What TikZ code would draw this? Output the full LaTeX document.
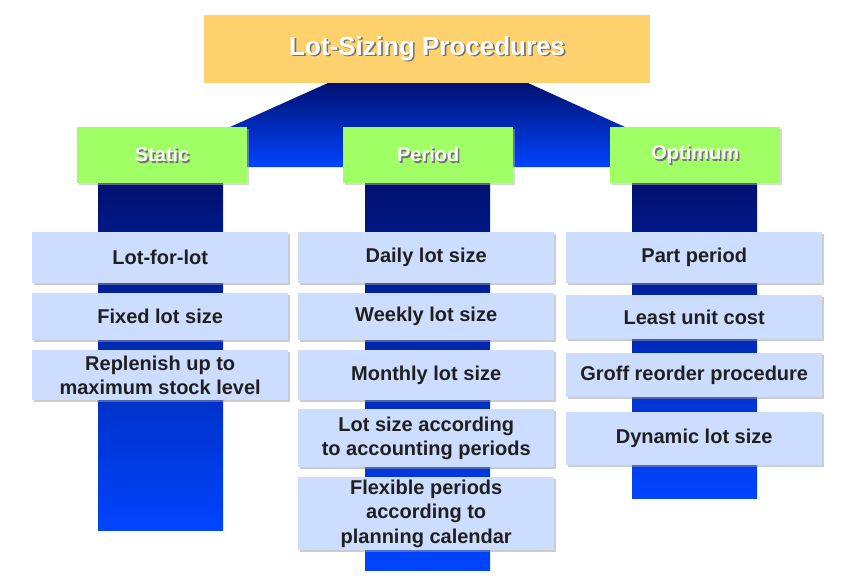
\documentclass[tikz,border=0pt]{standalone}
\usepackage{fontspec}
\setmainfont{Liberation Sans}
\usetikzlibrary{shadows}
\definecolor{navy}{HTML}{001070}
\definecolor{brightblue}{HTML}{0044FF}
\definecolor{topfill}{HTML}{FDD26E}
\definecolor{greenfill}{HTML}{A0FF64}
\definecolor{itemfill}{HTML}{CCDDFF}
\newcommand\shadowed[1]{\rlap{\kern1.6pt\raisebox{-1.6pt}{\color{black!55}#1}}#1}
\tikzset{
  titlebox/.style={rectangle, fill=topfill, anchor=north west, inner sep=0pt,
    text=white, font=\bfseries\fontsize{26}{30}\selectfont},
  catbox/.style={rectangle, fill=greenfill, anchor=north west, inner sep=0pt,
    minimum width=170pt, minimum height=56pt, text=white,
    drop shadow={shadow xshift=1.5pt, shadow yshift=-1.5pt, fill=black!30},
    font=\bfseries\fontsize{20}{24}\selectfont},
  item/.style={rectangle, fill=itemfill, anchor=north west, inner sep=0pt,
    minimum width=256pt, align=center, text=black!88,
    drop shadow={shadow xshift=1.5pt, shadow yshift=-1.5pt, fill=black!40},
    font=\bfseries\fontsize{20}{24.5}\selectfont},
  bar/.style={top color=navy, bottom color=brightblue}
}
\begin{document}
\begin{tikzpicture}[x=1pt,y=-1pt]
\useasboundingbox (0,0) rectangle (852,584);
% bars
\shade[bar] (328,83) -- (528,83) -- (625,127) -- (625,167) -- (230,167) -- (230,127) -- cycle;
\shade[bar] (98,180) rectangle (223,530);
\shade[bar] (365,180) rectangle (490,570);
\shade[bar] (632,180) rectangle (757,498);
% title
\node[titlebox, minimum width=446pt, minimum height=68pt] (title) at (204,15) {\shadowed{Lot-Sizing Procedures}};
% categories
\node[catbox] (static) at (77,127) {\shadowed{Static}};
\node[catbox] (period) at (343,127) {\shadowed{Period}};
\node[catbox] (optimum) at (610,127) {\shadowed{Optimum}};
% static column
\node[item, minimum height=51pt] (s1) at (32,232) {Lot-for-lot};
\node[item, minimum height=47pt] (s2) at (32,293) {Fixed lot size};
\node[item, minimum height=50pt] (s3) at (32,350) {Replenish up to\\maximum stock level};
% period column
\node[item, minimum height=51pt] (p1) at (298,232) {Daily lot size};
\node[item, minimum height=47pt] (p2) at (298,293) {Weekly lot size};
\node[item, minimum height=50pt] (p3) at (298,350) {Monthly lot size};
\node[item, minimum height=58pt] (p4) at (298,409) {Lot size according\\to accounting periods};
\node[item, minimum height=73pt] (p5) at (298,477) {Flexible periods\\according to\\planning calendar};
% optimum column
\node[item, minimum height=51pt] (o1) at (566,232) {Part period};
\node[item, minimum height=44pt] (o2) at (566,295) {Least unit cost};
\node[item, minimum height=44pt] (o3) at (566,353) {Groff reorder procedure};
\node[item, minimum height=53pt] (o4) at (566,412) {Dynamic lot size};
\end{tikzpicture}
\end{document}
